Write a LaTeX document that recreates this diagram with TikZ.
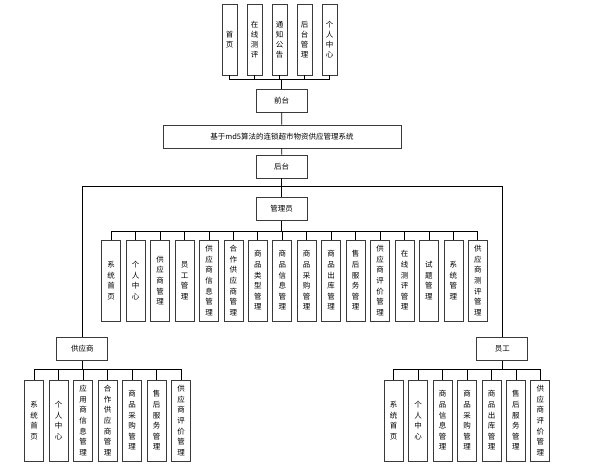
\documentclass[tikz,border=0pt]{standalone}
\usepackage{fontspec}
\newfontfamily\cjk{Noto Sans CJK SC}
\usepackage{tikz}
\definecolor{frame}{HTML}{3A3A3A}
\tikzset{
  box/.style={draw=frame,line width=.8pt,fill=white,inner sep=0pt,align=center,
    font=\cjk\fontsize{7.5}{10.6}\selectfont},
  level/.style={box,minimum width=51pt,minimum height=23pt},
  banner/.style={box,minimum width=238pt,minimum height=23pt},
  leaf/.style={box,minimum width=19pt,minimum height=81pt},
  topleaf/.style={box,minimum width=15pt,minimum height=71pt,font=\cjk\fontsize{7.5}{10}\selectfont},
  link/.style={draw=black,line width=.8pt}
}

\begin{document}
\begin{tikzpicture}[x=1pt,y=-1pt]
\useasboundingbox (0,0) rectangle (594,471);

% front end
\node[topleaf] (home) at (229.5,39.5) {首\\页};
\node[topleaf] (test) at (254.5,39.5) {在\\线\\测\\评};
\node[topleaf] (notice) at (279.5,39.5) {通\\知\\公\\告};
\node[topleaf] (admin) at (304.5,39.5) {后\\台\\管\\理};
\node[topleaf] (center) at (329.5,39.5) {个\\人\\中\\心};
\node[level] (front) at (281.5,100.5) {前台};
\node[banner] (system) at (282,136.5) {基于md5算法的连锁超市物资供应管理系统};
\node[level] (back) at (281.5,166.5) {后台};

\draw[link] (front.north) -- ++(0,-9) coordinate (frontbus);
\draw[link] (frontbus) -| (home.south);   \draw[link] (frontbus) -| (test.south);
\draw[link] (frontbus) -| (notice.south); \draw[link] (frontbus) -| (admin.south);
\draw[link] (frontbus) -| (center.south);
\draw[link] (front) -- (system); \draw[link] (system) -- (back);

% roles
\node[level] (mgr) at (281.5,209) {管理员};
\node[level] (supplier) at (82.3,349) {供应商};
\node[level] (staff) at (502.3,349) {员工};
\draw[link] (back) -- (mgr);
\coordinate (split) at (281.5,186.7);
\draw[link] (split) -| (supplier.north); \draw[link] (split) -| (staff.north);

% administrator
\node[leaf] (m1) at (111.2,280.5) {系\\统\\首\\页};
\node[leaf] (m2) at (135.6,280.5) {个\\人\\中\\心};
\node[leaf] (m3) at (160.1,280.5) {供\\应\\商\\管\\理};
\node[leaf] (m4) at (184.5,280.5) {员\\工\\管\\理};
\node[leaf] (m5) at (209.0,280.5) {供\\应\\商\\信\\息\\管\\理};
\node[leaf] (m6) at (233.4,280.5) {合\\作\\供\\应\\商\\管\\理};
\node[leaf] (m7) at (257.8,280.5) {商\\品\\类\\型\\管\\理};
\node[leaf] (m8) at (282.3,280.5) {商\\品\\信\\息\\管\\理};
\node[leaf] (m9) at (306.7,280.5) {商\\品\\采\\购\\管\\理};
\node[leaf] (m10) at (331.2,280.5) {商\\品\\出\\库\\管\\理};
\node[leaf] (m11) at (355.6,280.5) {售\\后\\服\\务\\管\\理};
\node[leaf] (m12) at (380.0,280.5) {供\\应\\商\\评\\价\\管\\理};
\node[leaf] (m13) at (404.5,280.5) {在\\线\\测\\评\\管\\理};
\node[leaf] (m14) at (428.9,280.5) {试\\题\\管\\理};
\node[leaf] (m15) at (453.4,280.5) {系\\统\\管\\理};
\node[leaf] (m16) at (477.8,280.5) {供\\应\\商\\测\\评\\管\\理};
\draw[link] (mgr.south) -- ++(0,10.7) coordinate (mgrbus);
\draw[link] (mgrbus) -| (m1.north);  \draw[link] (mgrbus) -| (m2.north);
\draw[link] (mgrbus) -| (m3.north);  \draw[link] (mgrbus) -| (m4.north);
\draw[link] (mgrbus) -| (m5.north);  \draw[link] (mgrbus) -| (m6.north);
\draw[link] (mgrbus) -| (m7.north);  \draw[link] (mgrbus) -| (m8.north);
\draw[link] (mgrbus) -| (m9.north);  \draw[link] (mgrbus) -| (m10.north);
\draw[link] (mgrbus) -| (m11.north); \draw[link] (mgrbus) -| (m12.north);
\draw[link] (mgrbus) -| (m13.north); \draw[link] (mgrbus) -| (m14.north);
\draw[link] (mgrbus) -| (m15.north); \draw[link] (mgrbus) -| (m16.north);

% supplier
\node[leaf] (s1) at (34.2,420.5) {系\\统\\首\\页};
\node[leaf] (s2) at (58.7,420.5) {个\\人\\中\\心};
\node[leaf] (s3) at (83.2,420.5) {应\\用\\商\\信\\息\\管\\理};
\node[leaf] (s4) at (107.7,420.5) {合\\作\\供\\应\\商\\管\\理};
\node[leaf] (s5) at (132.2,420.5) {商\\品\\采\\购\\管\\理};
\node[leaf] (s6) at (156.7,420.5) {售\\后\\服\\务\\管\\理};
\node[leaf] (s7) at (181.2,420.5) {供\\应\\商\\评\\价\\管\\理};
\draw[link] (supplier.south) -- ++(0,8.3) coordinate (supbus);
\draw[link] (supbus) -| (s1.north); \draw[link] (supbus) -| (s2.north);
\draw[link] (supbus) -| (s3.north); \draw[link] (supbus) -| (s4.north);
\draw[link] (supbus) -| (s5.north); \draw[link] (supbus) -| (s6.north);
\draw[link] (supbus) -| (s7.north);

% staff
\node[leaf] (e1) at (393.7,420.5) {系\\统\\首\\页};
\node[leaf] (e2) at (418.1,420.5) {个\\人\\中\\心};
\node[leaf] (e3) at (442.6,420.5) {商\\品\\信\\息\\管\\理};
\node[leaf] (e4) at (467.0,420.5) {商\\品\\采\\购\\管\\理};
\node[leaf] (e5) at (491.5,420.5) {商\\品\\出\\库\\管\\理};
\node[leaf] (e6) at (515.9,420.5) {售\\后\\服\\务\\管\\理};
\node[leaf] (e7) at (540.3,420.5) {供\\应\\商\\评\\价\\管\\理};
\draw[link] (staff.south) -- ++(0,8.3) coordinate (staffbus);
\draw[link] (staffbus) -| (e1.north); \draw[link] (staffbus) -| (e2.north);
\draw[link] (staffbus) -| (e3.north); \draw[link] (staffbus) -| (e4.north);
\draw[link] (staffbus) -| (e5.north); \draw[link] (staffbus) -| (e6.north);
\draw[link] (staffbus) -| (e7.north);
\end{tikzpicture}
\end{document}
